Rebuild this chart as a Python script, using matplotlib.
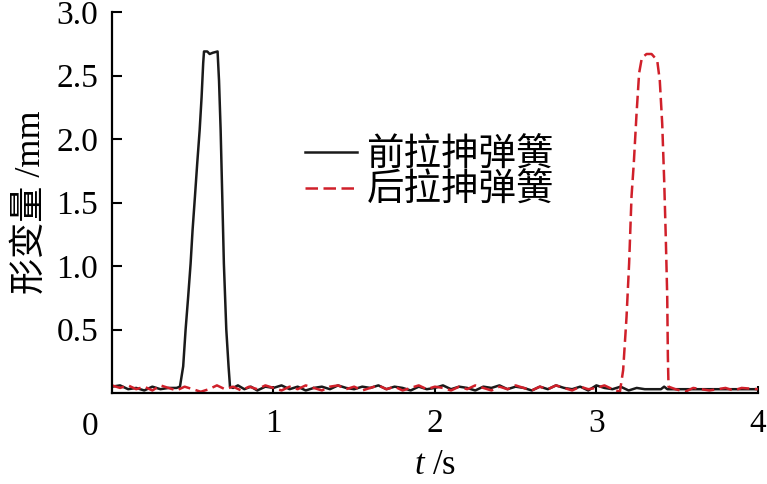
import matplotlib
matplotlib.use("Agg")
import matplotlib.pyplot as plt
import matplotlib.transforms as mtransforms

plt.rcParams["font.family"] = ["Liberation Serif", "Noto Sans CJK SC"]
plt.rcParams["mathtext.fontset"] = "custom"
plt.rcParams["mathtext.it"] = "Liberation Serif:italic"
plt.rcParams["mathtext.rm"] = "Liberation Serif"

# front spring (black solid)
t_front = [0.00, 0.05, 0.10, 0.15, 0.20, 0.25, 0.30, 0.35, 0.40, 0.421,
           0.441, 0.456, 0.472, 0.487, 0.499, 0.514, 0.528, 0.543, 0.555, 0.565,
           0.570, 0.590, 0.605, 0.625, 0.654, 0.663, 0.673, 0.683, 0.693, 0.708,
           0.722, 0.731, 0.75, 0.78, 0.82, 0.86, 0.90, 0.95, 1.00, 1.05,
           1.10, 1.15, 1.20, 1.25, 1.30, 1.35, 1.40, 1.45, 1.50, 1.55,
           1.60, 1.65, 1.70, 1.75, 1.80, 1.85, 1.90, 1.95, 2.00, 2.05,
           2.10, 2.15, 2.20, 2.25, 2.30, 2.35, 2.40, 2.45, 2.50, 2.55,
           2.60, 2.65, 2.70, 2.75, 2.80, 2.85, 2.90, 2.95, 3.00, 3.05,
           3.10, 3.15, 3.20, 3.25, 3.30, 3.35, 3.40, 3.42, 3.44, 3.50,
           4.00]
d_front = [0.05, 0.06, 0.03, 0.04, 0.02, 0.05, 0.03, 0.04, 0.04, 0.05,
           0.21, 0.50, 0.76, 1.02, 1.28, 1.55, 1.81, 2.07, 2.33, 2.60,
           2.69, 2.69, 2.67, 2.68, 2.69, 2.46, 2.07, 1.55, 1.02, 0.50,
           0.21, 0.05, 0.04, 0.06, 0.03, 0.05, 0.02, 0.05, 0.04, 0.06,
           0.03, 0.05, 0.02, 0.04, 0.05, 0.03, 0.06, 0.04, 0.03, 0.05,
           0.04, 0.06, 0.03, 0.05, 0.04, 0.02, 0.05, 0.03, 0.04, 0.06,
           0.03, 0.05, 0.04, 0.02, 0.05, 0.04, 0.06, 0.03, 0.05, 0.04,
           0.02, 0.05, 0.03, 0.06, 0.04, 0.03, 0.05, 0.02, 0.06, 0.04,
           0.03, 0.05, 0.02, 0.04, 0.03, 0.03, 0.03, 0.05, 0.03, 0.03,
           0.03]

# rear spring (red dashed)
t_rear = [0.00, 0.05, 0.10, 0.15, 0.20, 0.25, 0.30, 0.35, 0.40, 0.45,
          0.50, 0.55, 0.60, 0.65, 0.70, 0.75, 0.80, 0.85, 0.90, 0.95,
          1.00, 1.05, 1.10, 1.15, 1.20, 1.25, 1.30, 1.35, 1.40, 1.45,
          1.50, 1.55, 1.60, 1.65, 1.70, 1.75, 1.80, 1.85, 1.90, 1.95,
          2.00, 2.05, 2.10, 2.15, 2.20, 2.25, 2.30, 2.35, 2.40, 2.45,
          2.50, 2.55, 2.60, 2.65, 2.70, 2.75, 2.80, 2.85, 2.90, 2.95,
          3.00, 3.05, 3.10, 3.146, 3.166, 3.187, 3.203, 3.218, 3.232, 3.249,
          3.265, 3.282, 3.311, 3.342, 3.377, 3.393, 3.408, 3.420, 3.430, 3.439,
          3.443, 3.447, 3.49, 3.55, 3.60, 3.70, 3.80, 3.85, 3.90, 4.00]
d_rear = [0.06, 0.04, 0.06, 0.03, 0.05, 0.02, 0.06, 0.04, 0.02, 0.05,
          0.03, 0.01, 0.03, 0.06, 0.03, 0.05, 0.02, 0.05, 0.03, 0.06,
          0.04, 0.02, 0.05, 0.03, 0.06, 0.04, 0.02, 0.05, 0.06, 0.03,
          0.05, 0.02, 0.04, 0.06, 0.03, 0.05, 0.02, 0.04, 0.06, 0.03,
          0.05, 0.04, 0.02, 0.05, 0.03, 0.06, 0.04, 0.02, 0.05, 0.03,
          0.06, 0.04, 0.02, 0.05, 0.03, 0.06, 0.04, 0.02, 0.05, 0.03,
          0.04, 0.06, 0.03, 0.01, 0.18, 0.60, 1.02, 1.55, 1.81, 2.20,
          2.52, 2.64, 2.67, 2.67, 2.62, 2.46, 2.12, 1.68, 1.23, 0.76,
          0.29, 0.05, 0.03, 0.01, 0.04, 0.02, 0.04, 0.02, 0.04, 0.03]

x_ticks = [1, 2, 3, 4]
y_ticks = [0.5, 1.0, 1.5, 2.0, 2.5, 3.0]
y_ticklabels = ["0.5", "1.0", "1.5", "2.0", "2.5", "3.0"]

fig = plt.figure(figsize=(7.67, 4.84), dpi=100)
ax = fig.add_axes([0.146, 0.188, 0.842, 0.787])

ax.plot(t_front, d_front, color="#1a1a1a", lw=1.8, label="前拉抻弹簧")
ax.plot(t_rear, d_rear, color="#d0202a", lw=1.8, dashes=(5, 2.2), label="后拉抻弹簧")

ax.set_xlim(0, 4)
ax.set_ylim(0, 3.0)
ax.set_xticks(x_ticks)
ax.set_yticks(y_ticks)
ax.set_yticklabels(y_ticklabels)
ax.tick_params(axis="both", direction="in", labelsize=24, width=1.5)
ax.tick_params(axis="y", length=7, pad=10)
ax.tick_params(axis="x", length=5, pad=11)

for s in ["top", "right"]:
    ax.spines[s].set_visible(False)
for s in ["left", "bottom"]:
    ax.spines[s].set_linewidth(1.6)

# origin label
trans = mtransforms.blended_transform_factory(ax.transData, ax.transAxes)
ax.text(0, 0, "0", transform=trans + mtransforms.ScaledTranslation(-22 / 100, -18 / 100, fig.dpi_scale_trans),
        ha="center", va="top", fontsize=24)

ax.set_xlabel(r"$t$ /s", fontsize=25, labelpad=7)
ax.set_ylabel("形变量 /mm", fontsize=26, labelpad=6)

ax.legend(loc="upper left", bbox_to_anchor=(0.275, 0.708), frameon=False,
          fontsize=27, handlelength=1.4, handletextpad=0.25, labelspacing=0.0,
          borderaxespad=0)

fig.savefig("out.png", dpi=100)
